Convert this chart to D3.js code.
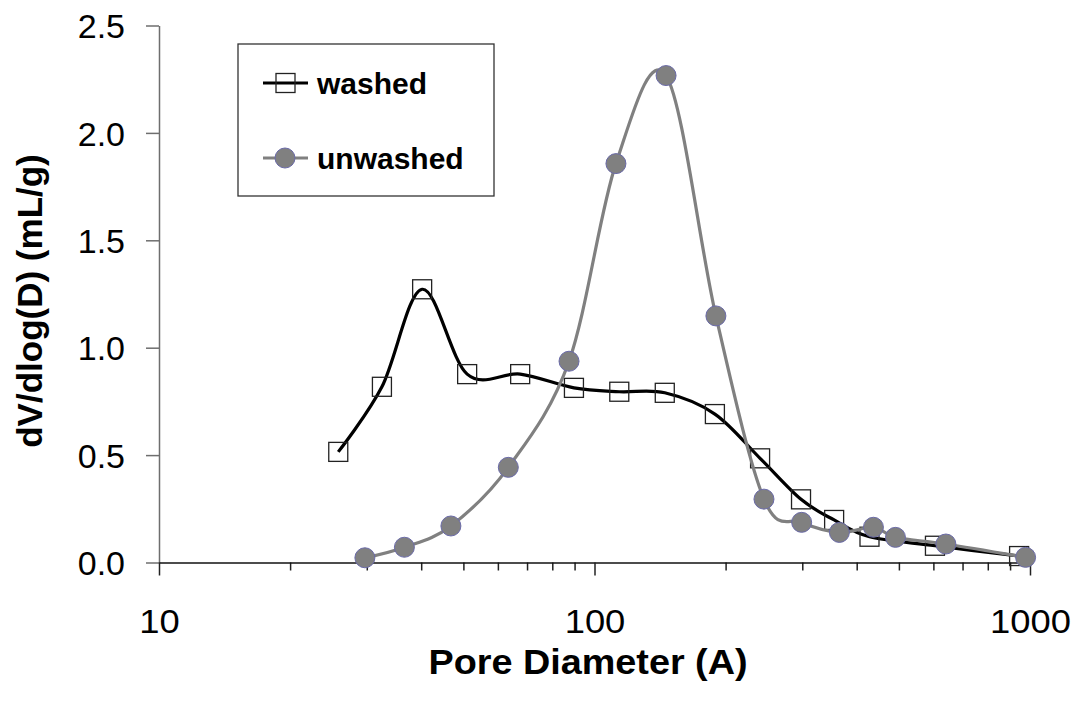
<!DOCTYPE html>
<html>
<head>
<meta charset="utf-8">
<script src="https://cdn.jsdelivr.net/npm/d3@7"></script>
<style>
  html, body { margin: 0; padding: 0; background: #fff; }
  svg { display: block; }
  text { font-family: "Liberation Sans", Arial, sans-serif; fill: #000; }
</style>
</head>
<body>
<svg id="chart" width="1076" height="702"></svg>
<script>
// ---- data ----
const washedD   = [25.8, 32.5, 40.2, 51.0, 67.5, 89.7, 114, 145, 189, 240, 298, 355, 428, 605, 944];
const washedV   = [0.515, 0.818, 1.272, 0.877, 0.877, 0.813, 0.795, 0.790, 0.691, 0.485, 0.294, 0.198, 0.120, 0.078, 0.030];
const unwashedD = [29.7, 36.6, 46.8, 63.4, 87.4, 112, 146, 190, 245, 299, 365, 437, 491, 641, 977];
const unwashedV = [0.022, 0.071, 0.170, 0.443, 0.937, 1.857, 2.267, 1.148, 0.295, 0.187, 0.140, 0.164, 0.117, 0.086, 0.024];
const xMajorTicks = [10, 100, 1000];
const xMinorTicks = [20, 30, 40, 50, 60, 70, 80, 90, 200, 300, 400, 500, 600, 700, 800, 900];
const yTicks = [0, 0.5, 1.0, 1.5, 2.0, 2.5];
const seriesNames = ["washed", "unwashed"];
const xTitle = "Pore Diameter (A)";
const yTitle = "dV/dlog(D) (mL/g)";

const svg = d3.select("#chart");
const x = d3.scaleLog().domain([10, 1000]).range([159, 1030]);
const y = d3.scaleLinear().domain([0, 2.5]).range([562.5, 25.5]);

// y axis
const yAxis = svg.append("g").attr("transform", `translate(${x(10)},0)`)
  .call(d3.axisLeft(y).tickValues(yTicks).tickFormat(d3.format(".1f")).tickSize(13).tickSizeOuter(0));
yAxis.select(".domain").attr("stroke", "#6e6e6e").attr("stroke-width", 1.5);
yAxis.selectAll(".tick line").attr("stroke", "#6e6e6e").attr("stroke-width", 1.5);
yAxis.selectAll(".tick text").attr("x", -34).attr("dy", "0.36em")
  .style("font-size", "34px").attr("fill", "#000");

// x axis minor
const xMinor = svg.append("g").attr("transform", `translate(0,${y(0)})`)
  .call(d3.axisBottom(x).tickValues(xMinorTicks).tickFormat("").tickSize(8).tickSizeOuter(0));
xMinor.select(".domain").remove();
xMinor.selectAll(".tick line").attr("stroke", "#222").attr("stroke-width", 1.5);

// x axis major
const xAxis = svg.append("g").attr("transform", `translate(0,${y(0)})`)
  .call(d3.axisBottom(x).tickValues(xMajorTicks).tickFormat(d3.format("d")).tickSize(13).tickSizeOuter(0));
xAxis.select(".domain").attr("stroke", "#111").attr("stroke-width", 1.5);
xAxis.selectAll(".tick line").attr("stroke", "#222").attr("stroke-width", 1.5);
xAxis.selectAll(".tick text").attr("y", 0).attr("dy", 0)
  .attr("transform", "translate(0,70) scale(1.07,1)")
  .style("font-size", "34px").attr("fill", "#000");

// axis titles
svg.append("text").attr("transform", "translate(588,674) scale(1.08,1)").attr("text-anchor", "middle")
  .style("font-size", "35px").style("font-weight", "bold").text(xTitle);
svg.append("text").attr("transform", "translate(42,301) rotate(-90)").attr("text-anchor", "middle")
  .style("font-size", "35px").style("font-weight", "bold").text(yTitle);

// series
const washed = washedD.map((d, i) => ({ d, v: washedV[i] }));
const unwashed = unwashedD.map((d, i) => ({ d, v: unwashedV[i] }));
const line = d3.line().x(p => x(p.d)).y(p => y(p.v)).curve(d3.curveCatmullRom.alpha(0));

svg.append("path").datum(washed).attr("d", line)
  .attr("fill", "none").attr("stroke", "#000").attr("stroke-width", 3.2);
svg.append("g").selectAll("rect").data(washed).join("rect")
  .attr("x", p => x(p.d) - 9.5).attr("y", p => y(p.v) - 9.5)
  .attr("width", 19).attr("height", 19)
  .attr("fill", "none").attr("stroke", "#222").attr("stroke-width", 1.3);

svg.append("path").datum(unwashed).attr("d", line)
  .attr("fill", "none").attr("stroke", "#808080").attr("stroke-width", 3.2);
svg.append("g").selectAll("circle").data(unwashed).join("circle")
  .attr("cx", p => x(p.d)).attr("cy", p => y(p.v)).attr("r", 10)
  .attr("fill", "#808080").attr("stroke", "#6a6aa8").attr("stroke-width", 1);

// legend
const lg = svg.append("g");
lg.append("rect").attr("x", 238).attr("y", 44).attr("width", 256).attr("height", 152)
  .attr("fill", "#fff").attr("stroke", "#333").attr("stroke-width", 1.3);
const rows = [83, 158];
seriesNames.forEach((name, i) => {
  const yy = rows[i];
  lg.append("line").attr("x1", 263).attr("x2", 308).attr("y1", yy).attr("y2", yy)
    .attr("stroke", i === 0 ? "#000" : "#808080").attr("stroke-width", 3.2);
  if (i === 0) {
    lg.append("rect").attr("x", 276).attr("y", yy - 9.5).attr("width", 19).attr("height", 19)
      .attr("fill", "none").attr("stroke", "#222").attr("stroke-width", 1.3);
  } else {
    lg.append("circle").attr("cx", 285).attr("cy", yy).attr("r", 10)
      .attr("fill", "#808080").attr("stroke", "#6a6aa8").attr("stroke-width", 1);
  }
  lg.append("text").attr("x", 317).attr("y", yy + 11)
    .style("font-size", "30px").style("font-weight", "bold").text(name);
});
</script>
</body>
</html>
